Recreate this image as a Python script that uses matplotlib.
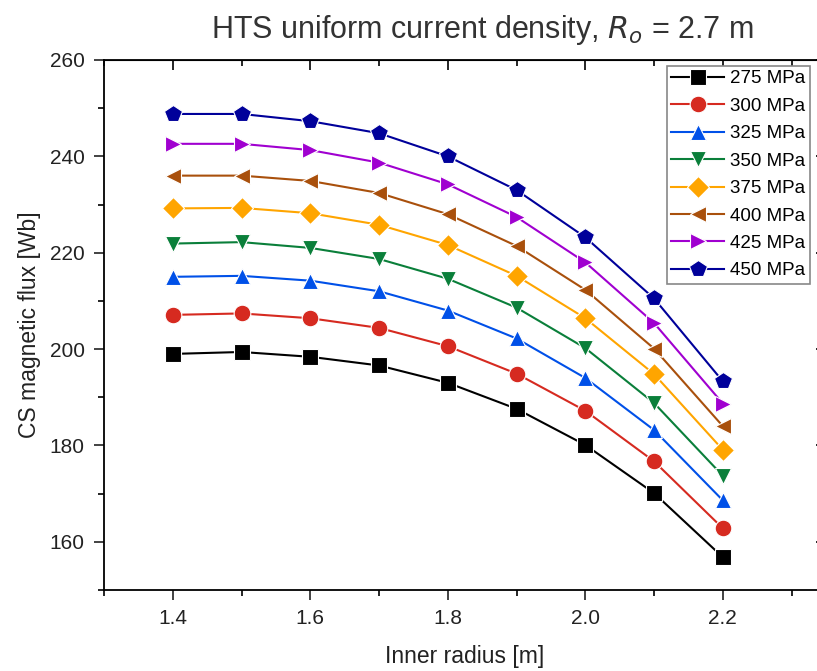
import matplotlib.pyplot as plt
from matplotlib.ticker import MultipleLocator

plt.rcParams['font.family'] = ['Liberation Sans', 'DejaVu Sans']

radius = [1.4, 1.5, 1.6, 1.7, 1.8, 1.9, 2.0, 2.1, 2.2]
labels = ["275 MPa", "300 MPa", "325 MPa", "350 MPa", "375 MPa", "400 MPa", "425 MPa", "450 MPa"]
flux_275 = [199.0, 199.4, 198.4, 196.6, 193.0, 187.6, 180.1, 170.1, 156.8]
flux_300 = [207.1, 207.4, 206.4, 204.4, 200.6, 194.9, 187.2, 176.7, 162.8]
flux_325 = [215.0, 215.2, 214.2, 212.0, 208.0, 202.2, 194.0, 183.2, 168.6]
flux_350 = [221.9, 222.2, 221.0, 218.7, 214.6, 208.6, 200.2, 188.8, 173.7]
flux_375 = [229.2, 229.3, 228.2, 225.8, 221.6, 215.2, 206.4, 194.8, 179.1]
flux_400 = [236.0, 236.0, 234.9, 232.4, 228.0, 221.4, 212.3, 200.1, 184.0]
flux_425 = [242.6, 242.6, 241.3, 238.7, 234.2, 227.4, 218.0, 205.4, 188.7]
flux_450 = [248.8, 248.8, 247.3, 244.8, 240.0, 233.0, 223.2, 210.5, 193.3]
series = [flux_275, flux_300, flux_325, flux_350, flux_375, flux_400, flux_425, flux_450]

colors = ["#000000", "#d62a20", "#0050e8", "#0a7f3a", "#ffa500", "#a9500c", "#a000d0", "#00009a"]
markers = ["s", "o", "^", "v", "D", "<", ">", "p"]
sizes = [11, 12, 12, 12, 11, 12, 12, 13]

fig = plt.figure(figsize=(8.17, 6.71), dpi=100)
# right spine sits just outside the picture, as in the original crop
ax = fig.add_axes([0.1273, 0.1207, 0.8837, 0.7899])

for y, lab, c, m, ms in zip(series, labels, colors, markers, sizes):
    ax.plot(radius, y, color=c, marker=m, markersize=ms, linewidth=1.5,
            markeredgecolor="white", markeredgewidth=0.8, label=lab)

ax.set_xlim(1.3, 2.35)
ax.set_ylim(150, 260)
ax.xaxis.set_major_locator(MultipleLocator(0.2))
ax.xaxis.set_minor_locator(MultipleLocator(0.1))
ax.yaxis.set_major_locator(MultipleLocator(20))
ax.yaxis.set_minor_locator(MultipleLocator(10))
ax.xaxis.set_major_formatter(plt.FormatStrFormatter("%.1f"))
ax.tick_params(which="major", direction="out", length=7, width=1.2, labelsize=15,
               colors="#222222", pad=7)
ax.tick_params(which="minor", direction="out", length=4, width=1.2)
for s in ax.spines.values():
    s.set_linewidth(1.3)

top = ax.secondary_xaxis("top")
top.xaxis.set_major_locator(MultipleLocator(0.2))
top.xaxis.set_minor_locator(MultipleLocator(0.1))
top.tick_params(which="major", direction="in", length=7, width=1.2, labeltop=False)
top.tick_params(which="minor", direction="in", length=4, width=1.2)
right = ax.secondary_yaxis("right")
right.yaxis.set_major_locator(MultipleLocator(20))
right.yaxis.set_minor_locator(MultipleLocator(10))
right.tick_params(which="major", direction="in", length=7, width=1.2, labelright=False)
right.tick_params(which="minor", direction="in", length=4, width=1.2)

ax.set_xlabel("Inner radius [m]", fontsize=16.5, color="#222222", labelpad=12)
ax.set_ylabel("CS magnetic flux [Wb]", fontsize=16.5, color="#222222", labelpad=6)
fig.text(0.59, 0.955, r"HTS uniform current density, $R_o$ = 2.7 m", ha="center", va="center",
         fontsize=22, color="#333333", math_fontfamily="dejavusans")

leg = ax.legend(loc="upper right", fontsize=13.5, handlelength=2.8, borderaxespad=0.3,
                labelspacing=0.55, fancybox=False, framealpha=1, borderpad=0.25,
                handletextpad=0.3, markerscale=1.0, bbox_to_anchor=(0.985, 1.0))
leg.get_frame().set_edgecolor("#888888")
leg.get_frame().set_linewidth(1.2)

fig.savefig("out.png", dpi=100)
